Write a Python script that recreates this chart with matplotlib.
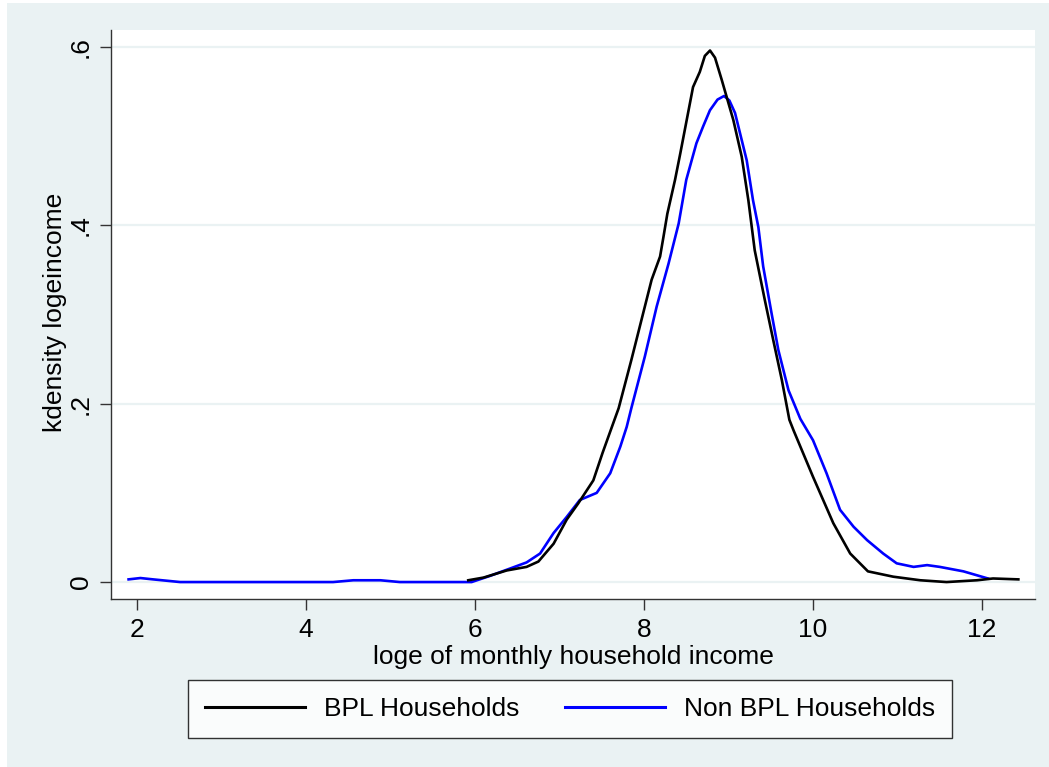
import matplotlib.pyplot as plt
import matplotlib.patches as mpatches

plt.rcParams['font.family'] = ['Liberation Sans', 'DejaVu Sans']

# kernel density of log monthly income, BPL households
bpl_x = [5.92, 6.10, 6.375, 6.61, 6.75, 6.93, 7.085, 7.22, 7.40, 7.51, 7.62, 7.70,
         7.85, 7.97, 8.09, 8.19, 8.23, 8.276, 8.367, 8.43, 8.58, 8.66, 8.72, 8.781,
         8.84, 8.92, 9.057, 9.156, 9.235, 9.31, 9.43, 9.53, 9.63, 9.72, 9.77, 10.00,
         10.24, 10.44, 10.65, 10.95, 11.27, 11.58, 11.94, 12.13, 12.43]
bpl_y = [0.002, 0.005, 0.013, 0.017, 0.023, 0.043, 0.070, 0.088, 0.114, 0.145, 0.174, 0.195,
         0.249, 0.294, 0.339, 0.365, 0.387, 0.413, 0.451, 0.481, 0.555, 0.572, 0.590, 0.596,
         0.588, 0.563, 0.518, 0.477, 0.428, 0.372, 0.316, 0.271, 0.227, 0.182, 0.170, 0.118,
         0.066, 0.032, 0.012, 0.006, 0.002, 0.0, 0.002, 0.004, 0.003]

# non BPL households
nbpl_x = [1.90, 2.04, 2.19, 2.51, 4.32, 4.56, 4.88, 5.11, 5.96, 6.18, 6.41, 6.61, 6.77,
          6.93, 7.085, 7.24, 7.44, 7.60, 7.72, 7.795, 7.85, 8.01, 8.15, 8.29, 8.41, 8.50,
          8.62, 8.70, 8.78, 8.87, 8.947, 9.01, 9.077, 9.215, 9.29, 9.353, 9.41, 9.51, 9.59,
          9.71, 9.85, 10.00, 10.16, 10.32, 10.48, 10.64, 10.83, 10.99, 11.19, 11.35,
          11.50, 11.78, 12.07]
nbpl_y = [0.003, 0.0045, 0.003, 0.0, 0.0, 0.002, 0.002, 0.0, 0.0, 0.007, 0.015, 0.022, 0.032,
          0.055, 0.073, 0.092, 0.100, 0.122, 0.152, 0.174, 0.195, 0.253, 0.309, 0.357, 0.402,
          0.451, 0.492, 0.511, 0.529, 0.541, 0.545, 0.540, 0.526, 0.473, 0.428, 0.398, 0.354,
          0.301, 0.260, 0.215, 0.183, 0.159, 0.122, 0.081, 0.062, 0.047, 0.032, 0.021, 0.017,
          0.019, 0.017, 0.012, 0.004]

xticks = [2, 4, 6, 8, 10, 12]
yticks = [0, 0.2, 0.4, 0.6]
ytick_labels = ['0', '.2', '.4', '.6']

bg = '#EAF2F3'
W, H = 1049, 767
fig = plt.figure(figsize=(W / 100, H / 100), dpi=100, facecolor=bg)

# thin white margin on the left and top edges
fig.patches.append(mpatches.Rectangle((0, 0), 7 / W, 1, transform=fig.transFigure,
                                      facecolor='white', edgecolor='none'))
fig.patches.append(mpatches.Rectangle((0, 1 - 3 / H), 1, 3 / H, transform=fig.transFigure,
                                      facecolor='white', edgecolor='none'))

ax = fig.add_axes([111 / W, 1 - 599 / H, (1035 - 111) / W, (599 - 30) / H])
ax.set_facecolor('white')

for yv in yticks:
    ax.axhline(yv, color=bg, lw=1.6, zorder=0)

ax.plot(bpl_x, bpl_y, color='black', lw=1.9, label='BPL Households', zorder=3)
ax.plot(nbpl_x, nbpl_y, color='#0000FF', lw=1.9, label='Non BPL Households', zorder=2)

ax.set_xlim(1.692, 12.627)
ax.set_ylim(-0.019, 0.619)
ax.set_xticks(xticks)
ax.set_xticklabels([str(v) for v in xticks])
ax.set_yticks(yticks)
ax.set_yticklabels(ytick_labels, rotation=90, va='center')

for side in ['top', 'right']:
    ax.spines[side].set_visible(False)
for side in ['left', 'bottom']:
    ax.spines[side].set_color('#333333')
    ax.spines[side].set_linewidth(1.0)
ax.tick_params(axis='both', length=8, width=1, color='#333333', labelsize=19, pad=6)
ax.tick_params(axis='y', pad=5)

fig.text(55 / W, 1 - 312 / H, 'kdensity logeincome', rotation=90, fontsize=19,
         ha='center', va='center')
fig.text(573 / W, 1 - 657 / H, 'loge of monthly household income', fontsize=19,
         ha='center', va='center')

leg = fig.legend(loc='center', bbox_to_anchor=(570 / W, 1 - 709 / H), ncol=2,
                 fontsize=19, frameon=True, fancybox=False, edgecolor='black',
                 handlelength=3.8, handletextpad=0.7, columnspacing=1.75,
                 borderpad=0.65, borderaxespad=0)
leg.get_frame().set_linewidth(1.0)
leg.get_frame().set_facecolor('white')
for line in leg.get_lines():
    line.set_linewidth(2.2)

fig.savefig('out.png', dpi=100, facecolor=bg)
